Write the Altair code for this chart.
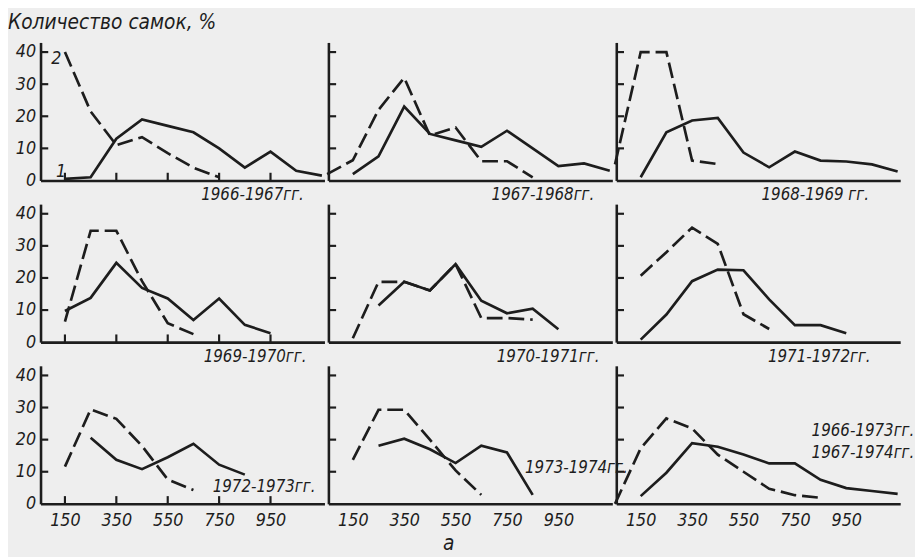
import altair as alt
import pandas as pd

# ---------------- data ----------------
X_GRID = [50, 150, 250, 350, 450, 550, 650, 750, 850, 950, 1050, 1150]
N = None

p1_solid = [N, 0.5, 1.0, 13.0, 19.0, 17.0, 15.0, 10.0, 4.0, 9.0, 3.0, 1.5]
p1_dashed = [N, 40.0, 21.5, 11.0, 13.5, 8.5, 4.0, 1.0, N, N, N, N]

p2_solid = [N, 2.0, 7.5, 23.0, 14.5, 12.5, 10.5, 15.5, 10.0, 4.5, 5.3, 3.0]
p2_dashed = [2.0, 6.3, 22.0, 32.0, 14.0, 16.5, 6.0, 6.0, 1.0, N, N, N]

p3_solid = [N, 1.0, 15.0, 18.7, 19.5, 8.7, 4.1, 9.0, 6.2, 5.9, 5.0, 2.8]
p3_dashed = [5.0, 40.0, 40.0, 6.2, 5.1, N, N, N, N, N, N, N]

p4_solid = [N, 9.7, 13.8, 24.7, 16.9, 13.6, 6.9, 13.6, 5.4, 2.8, N, N]
p4_dashed = [N, 6.4, 34.7, 34.7, 19.0, 5.9, 2.5, N, N, N, N, N]

p5_solid = [N, N, 11.4, 18.8, 16.1, 24.3, 12.9, 9.0, 10.4, 4.0, N, N]
p5_dashed = [N, 1.2, 18.8, 18.8, 16.1, 24.3, 7.5, 7.5, 7.0, N, N, N]

p6_solid = [N, 0.8, 8.6, 19.0, 22.6, 22.4, 13.3, 5.3, 5.3, 2.8, N, N]
p6_dashed = [N, 20.7, 28.0, 35.7, 30.6, 8.7, 4.1, N, N, N, N, N]

p7_solid = [N, N, 20.6, 13.7, 10.8, 14.5, 18.7, 12.2, 9.1, N, N, N]
p7_dashed = [N, 11.6, 29.4, 26.5, 18.0, 7.6, 4.3, N, N, N, N, N]

p8_solid = [N, N, 18.1, 20.3, 17.0, 12.7, 18.1, 16.0, 2.8, N, N, N]
p8_dashed = [N, 13.7, 29.3, 29.3, 20.0, 10.4, 2.8, N, N, N, N, N]

p9_solid = [N, 2.4, 9.7, 18.9, 17.8, 15.4, 12.6, 12.6, 7.5, 4.9, 4.0, 3.1]
p9_dashed = [0.0, 17.3, 26.6, 23.5, 15.3, 10.0, 4.7, 2.7, 1.9, N, N, N]

X_LABELS = [150, 350, 550, 750, 950]
Y_LABELS = [0, 10, 20, 30, 40]
Y_TICKS = [10, 20, 30, 40]

YEAR_TEXT = ["1966-1967гг.", "1967-1968гг.", "1968-1969 гг.", "1969-1970гг.",
             "1970-1971гг.", "1971-1972гг.", "1972-1973гг.", "1973-1974гг.",
             "1966-1973гг.", "1967-1974гг."]
YEAR_PANEL = [1, 2, 3, 4, 5, 6, 7, 8, 9, 9]
YEAR_X = [680, 690, 620, 690, 710, 645, 725, 820, 815, 815]
YEAR_Y = [N, N, N, N, N, N, 5.2, 11.0, 22.8, 15.7]

CURVE_TEXT = ["2", "1"]
CURVE_X = [116, 135]
CURVE_Y = [37.8, 2.5]

TITLE = "Количество самок, %"
PANEL_LETTER = "а"
LETTER_X = 523

# ---------------- styling ----------------
FONT = "Liberation Sans Narrow, DejaVu Sans Condensed, Arial Narrow, sans-serif"
INK = "#1d1d1d"
BG = "#eeeeee"
W, H = 288, 140
XDOM = [55, 1160]
YDOM = [0, 43]
TICK_X_LEN = 30   # data units of x (about 8 px)
TICK_Y_LEN = 2.4  # data units of y (about 8 px)

series = {
    1: (p1_solid, p1_dashed), 2: (p2_solid, p2_dashed), 3: (p3_solid, p3_dashed),
    4: (p4_solid, p4_dashed), 5: (p5_solid, p5_dashed), 6: (p6_solid, p6_dashed),
    7: (p7_solid, p7_dashed), 8: (p8_solid, p8_dashed), 9: (p9_solid, p9_dashed),
}
rows = []
for pid, (sol, das) in series.items():
    for kind, vals in (("solid", sol), ("dashed", das)):
        for xv, yv in zip(X_GRID, vals):
            if yv is not None:
                rows.append({"panel": pid, "kind": kind, "x": xv, "y": yv})
df = pd.DataFrame(rows)

xscale = alt.Scale(domain=XDOM, nice=False, zero=False)
yscale = alt.Scale(domain=YDOM, nice=False)


def make_panel(pid, row, col):
    show_x = row == 2
    show_y = col == 0
    xax = alt.Axis(values=X_LABELS, labels=show_x, ticks=False, tickSize=0, grid=False,
                   domainColor=INK, domainWidth=2.6, labelFont=FONT, labelFontSize=18,
                   labelFontStyle="italic", labelColor=INK, labelPadding=8,
                   labelFlush=False, labelOverlap=False)
    yax = alt.Axis(values=Y_LABELS, labels=show_y, ticks=False, tickSize=0, grid=False,
                   domainColor=INK, domainWidth=2.6, labelFont=FONT, labelFontSize=18,
                   labelFontStyle="italic", labelColor=INK, labelPadding=5,
                   labelFlush=False, labelOverlap=False)
    X = alt.X("x:Q", scale=xscale, axis=xax, title=None)
    Y = alt.Y("y:Q", scale=yscale, axis=yax, title=None)

    d = df[df.panel == pid]
    solid = alt.Chart(d[d.kind == "solid"]).mark_line(
        color=INK, strokeWidth=2.7, strokeJoin="miter").encode(x=X, y=Y)
    dashed = alt.Chart(d[d.kind == "dashed"]).mark_line(
        color=INK, strokeWidth=2.7, strokeDash=[16, 6], strokeJoin="miter").encode(x=X, y=Y)

    ytd = pd.DataFrame({"y": Y_TICKS, "x": [XDOM[0]] * len(Y_TICKS),
                        "x2": [XDOM[0] + TICK_X_LEN] * len(Y_TICKS)})
    yt = alt.Chart(ytd).mark_rule(color=INK, strokeWidth=2.2).encode(
        y=Y, x=X, x2="x2:Q")
    layers = [yt, solid, dashed]
    if col == 0:
        xtd = pd.DataFrame({"x": X_LABELS, "y": [0.0] * len(X_LABELS),
                            "y2": [TICK_Y_LEN] * len(X_LABELS)})
        xt = alt.Chart(xtd).mark_rule(color=INK, strokeWidth=2.2).encode(
            x=X, y=Y, y2="y2:Q")
        layers.append(xt)

    yrs = pd.DataFrame({"t": YEAR_TEXT, "p": YEAR_PANEL, "x": YEAR_X, "y": YEAR_Y})
    yrs = yrs[yrs.p == pid]
    tstyle = dict(align="left", baseline="middle", font=FONT, fontSize=17,
                  fontStyle="italic", color=INK)
    if row < 2:
        layers.append(alt.Chart(yrs[["t", "x"]]).mark_text(**tstyle).encode(
            x=X, y=alt.value(H + 15), text="t:N"))
    else:
        layers.append(alt.Chart(yrs[["t", "x", "y"]]).mark_text(**tstyle).encode(
            x=X, y=Y, text="t:N"))

    if pid == 1:
        cur = pd.DataFrame({"t": CURVE_TEXT, "x": CURVE_X, "y": CURVE_Y})
        layers.append(alt.Chart(cur).mark_text(
            align="center", baseline="middle", font=FONT, fontSize=18,
            fontStyle="italic", color=INK).encode(x=X, y=Y, text="t:N"))
        layers.append(alt.Chart(pd.DataFrame({"t": [TITLE]})).mark_text(
            align="left", baseline="bottom", font=FONT, fontSize=21,
            fontStyle="italic", color=INK).encode(
            x=alt.value(-33), y=alt.value(-10), text="t:N"))
    if pid == 8:
        layers.append(alt.Chart(pd.DataFrame({"t": [PANEL_LETTER], "x": [LETTER_X]})).mark_text(
            align="center", baseline="middle", font=FONT, fontSize=21,
            fontStyle="italic", color=INK).encode(x=X, y=alt.value(H + 41), text="t:N"))

    return alt.layer(*layers).properties(width=W, height=H)


panels = [make_panel(r * 3 + c + 1, r, c) for r in range(3) for c in range(3)]

chart = alt.concat(*panels, columns=3, spacing={"row": 24, "column": 4}, bounds="flush").properties(
    padding={"left": 0, "top": 0, "right": 0, "bottom": 0}
).configure(background=BG).configure_view(stroke=None)

chart.save("out.html", embed_options={"renderer": "svg", "actions": False})
